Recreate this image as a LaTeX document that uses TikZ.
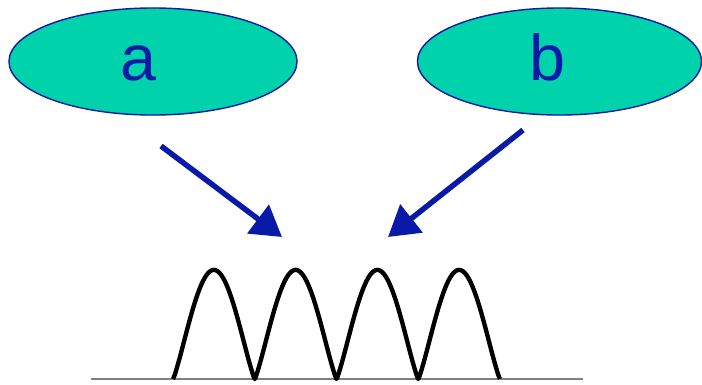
\documentclass[tikz,border=0pt]{standalone}
\usepackage{fontspec}
\setmainfont{Liberation Sans}
\usepackage{xcolor}
\usepackage{tikz}
\usetikzlibrary{shapes.geometric, arrows.meta, positioning, calc}
\definecolor{tealfill}{RGB}{0,210,172}
\definecolor{darkblue}{RGB}{10,26,168}
\tikzstyle{bubble} = [ellipse, draw=darkblue, line width=1pt, fill=tealfill, minimum height=2.675cm, text=darkblue, font=\fontsize{46}{50}\selectfont, inner sep=0pt, text height=0.925cm, text depth=0pt]
\tikzstyle{arrow} = [darkblue, line width=3.9pt, -{Triangle[length=0.75cm, width=0.875cm]}]
\tikzstyle{wave} = [black, line width=3.1pt, line join=round]
\tikzstyle{ground} = [gray, line width=1.4pt]

\begin{document}
\begin{tikzpicture}[x=0.025cm, y=-0.025cm]
    \useasboundingbox (0,0) rectangle (702,384);

    % Ellipsen
    \node (ea) [bubble, minimum width=7.2cm] at (153,61.5) {a\kern0.75cm};
    \node (eb) [bubble, minimum width=7.1cm] at (559.5,61.5) {b\kern0.625cm};

    % Pfeile
    \coordinate (atail) at (161,146);
    \coordinate (ahead) at (282,237);
    \coordinate (btail) at (523,130);
    \coordinate (bhead) at (388,237);
    \draw [arrow] (atail) -- (ahead);
    \draw [arrow] (btail) -- (bhead);

    % Welle
    \draw [ground] (91,379) -- (583,379);
    \draw [wave] plot[domain=0:4, samples=241, smooth]
        ({173+81.75*\x}, {379-109*(pow(abs(sin(180*\x))+0.001,1.2)-0.0001)});
\end{tikzpicture}
\end{document}
